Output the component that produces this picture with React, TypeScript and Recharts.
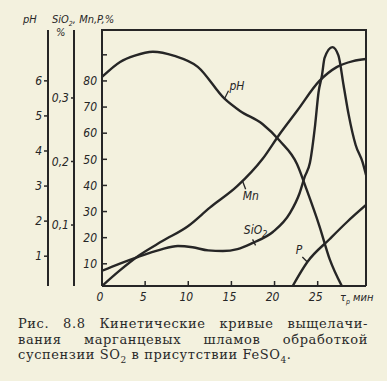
import React from "react";
import {
  ComposedChart,
  Line,
  XAxis,
  YAxis,
  ReferenceDot,
} from "recharts";

// values: time in minutes, pH units, SiO2 in %, Mn and P in %
const phTime = [0, 2.1, 3.8, 5.9, 8.4, 11.1, 14.2, 16, 18.6, 20.6, 22.6, 23.7, 25.2, 26.4, 27.8];
const phValues = [6.11, 6.54, 6.72, 6.83, 6.71, 6.4, 5.49, 5.14, 4.77, 4.29, 3.63, 2.91, 1.86, 0.91, 0.15];

const mnTime = [0, 2, 4.2, 7, 10, 12.5, 15.7, 18.6, 20.6, 22.6, 25.2, 27.2, 29.1, 30.6];
const mnValues = [1.5, 7.3, 13, 18.7, 24.5, 31.5, 39.8, 50.1, 59.7, 68.5, 80, 85.3, 87.6, 88.4];

const sio2Time = [0, 2, 4.2, 6.7, 8.8, 10.5, 12.3, 14, 15.7, 17.5, 19.8, 21.8, 22.9, 23.5, 24.1, 24.7, 25.1, 25.5, 25.8, 26.7, 27.4, 28, 28.6, 29.4, 30.2, 30.6];
const sio2Values = [0.028, 0.039, 0.05, 0.061, 0.067, 0.065, 0.06, 0.059, 0.062, 0.072, 0.089, 0.119, 0.15, 0.176, 0.198, 0.257, 0.309, 0.336, 0.363, 0.38, 0.367, 0.32, 0.273, 0.226, 0.199, 0.179];

const pTime = [22.1, 23.8, 26.4, 28.4, 30.6];
const pValues = [1.5, 10.7, 19.5, 26, 32.5];

const timeTicks = [0, 5, 10, 15, 20, 25];
const pctTicks = [10, 20, 30, 40, 50, 60, 70, 80, 90];
const pctLabelled = [10, 20, 30, 40, 50, 60, 70, 80];
const phTicks = [1, 2, 3, 4, 5, 6];
const sio2Ticks = [0.1, 0.2, 0.3];

const T_MAX = 30.6;
const PCT_MIN = 1.5;
const PCT_MAX = 99.5;

const zip = (ts: number[], vs: number[]) => ts.map((t, i) => ({ t, v: vs[i] }));
const phData = zip(phTime, phValues);
const mnData = zip(mnTime, mnValues);
const sio2Data = zip(sio2Time, sio2Values);
const pData = zip(pTime, pValues);

// layout
const CHART_W = 387;
const CHART_H = 310;
const MARGIN = { top: 30, right: 21, bottom: 4, left: 0 };
const AXIS_W = { pct: 28, sio2: 26, ph: 48 };
const X_AXIS_H = 20;
const PLOT_LEFT = MARGIN.left + AXIS_W.pct + AXIS_W.sio2 + AXIS_W.ph;
const PLOT_RIGHT = CHART_W - MARGIN.right;
const PLOT_BOTTOM = CHART_H - MARGIN.bottom - X_AXIS_H;

const INK = "#262626";
const PAPER = "#f3f1de";
const labelFont = "'Liberation Sans Narrow', 'DejaVu Sans Condensed', 'Liberation Sans', sans-serif";
const labelStyle = { fontFamily: labelFont, fontStyle: "italic", fontSize: 12, fill: INK } as const;
const frameLine = { stroke: INK, strokeWidth: 2 };

function PctTick({ x, y, payload }: any) {
  return (
    <g>
      <line x1={x + 5} x2={x + 10} y1={y} y2={y} stroke={INK} strokeWidth={1.5} />
      {pctLabelled.includes(payload.value) && (
        <text x={x} y={y} dy="0.35em" textAnchor="end" {...labelStyle}>
          {payload.value}
        </text>
      )}
    </g>
  );
}

function TimeTick({ x, y, payload }: any) {
  return (
    <g>
      <line x1={x} x2={x} y1={y - 5} y2={y - 10} stroke={INK} strokeWidth={1.5} />
      <text x={x - 2} y={y} dy="0.8em" textAnchor="middle" {...labelStyle}>
        {payload.value}
      </text>
    </g>
  );
}

// curve name with a short leader line, placed at a point on the curve
function curveLabel(text: React.ReactNode, lx: number, ly: number, tx: number, ty: number, anchor: string) {
  return ({ cx, cy }: any) => (
    <g>
      <line x1={cx} y1={cy} x2={cx + lx} y2={cy + ly} stroke={INK} strokeWidth={1.3} />
      <text x={cx + tx} y={cy + ty} dy="0.35em" textAnchor={anchor} {...labelStyle}>
        {text}
      </text>
    </g>
  );
}

const overlay = (left: number, top: number, extra: React.CSSProperties = {}): React.CSSProperties => ({
  position: "absolute",
  left,
  top,
  fontFamily: labelFont,
  fontStyle: "italic",
  fontSize: 11,
  color: INK,
  lineHeight: "12px",
  whiteSpace: "nowrap",
  ...extra,
});

const captionLine: React.CSSProperties = {
  textAlign: "justify",
  textAlignLast: "justify",
  height: 15.5,
};

export default function App() {
  return (
    <div style={{ position: "absolute", left: 0, top: 0, width: 387, height: 381, background: PAPER, overflow: "hidden" }}>
      <ComposedChart width={CHART_W} height={CHART_H} margin={MARGIN}>
        <XAxis
          type="number"
          dataKey="t"
          domain={[0, T_MAX]}
          ticks={timeTicks}
          allowDataOverflow
          height={X_AXIS_H}
          tickSize={0}
          tickMargin={5}
          tickLine={false}
          axisLine={frameLine}
          tick={<TimeTick />}
        />
        <YAxis
          yAxisId="a_pct"
          type="number"
          domain={[PCT_MIN, PCT_MAX]}
          ticks={pctTicks}
          allowDataOverflow
          width={AXIS_W.pct}
          tickSize={0}
          tickMargin={5}
          tickLine={false}
          axisLine={frameLine}
          tick={<PctTick />}
        />
        <YAxis
          yAxisId="b_sio2"
          type="number"
          domain={[0.004, 0.407]}
          ticks={sio2Ticks}
          allowDataOverflow
          width={AXIS_W.sio2}
          tickSize={3}
          tickMargin={2}
          tickLine={{ stroke: INK, strokeWidth: 1.5 }}
          axisLine={frameLine}
          tickFormatter={(v: number) => v.toFixed(1).replace(".", ",")}
          tick={labelStyle}
        />
        <YAxis
          yAxisId="c_ph"
          type="number"
          domain={[0.15, 7.45]}
          ticks={phTicks}
          allowDataOverflow
          width={AXIS_W.ph}
          tickSize={4}
          tickMargin={2}
          tickLine={{ stroke: INK, strokeWidth: 1.5 }}
          axisLine={frameLine}
          tick={labelStyle}
        />
        <Line data={phData} yAxisId="c_ph" dataKey="v" type="monotone" stroke={INK} strokeWidth={2.4} dot={false} isAnimationActive={false} />
        <Line data={mnData} yAxisId="a_pct" dataKey="v" type="monotone" stroke={INK} strokeWidth={2.4} dot={false} isAnimationActive={false} />
        <Line data={sio2Data} yAxisId="b_sio2" dataKey="v" type="monotone" stroke={INK} strokeWidth={2.4} dot={false} isAnimationActive={false} />
        <Line data={pData} yAxisId="a_pct" dataKey="v" type="monotone" stroke={INK} strokeWidth={2.4} dot={false} isAnimationActive={false} />
        <ReferenceDot yAxisId="c_ph" x={14.2} y={5.49} r={0} shape={curveLabel("pH", 4, -8, 5, -13, "start")} />
        <ReferenceDot yAxisId="a_pct" x={16.3} y={41.6} r={0} shape={curveLabel("Mn", 3, 8, 0, 15, "start")} />
        <ReferenceDot
          yAxisId="b_sio2"
          x={17.8}
          y={0.068}
          r={0}
          shape={curveLabel(<>SiO<tspan fontSize={9} dy={3}>2</tspan></>, -3, -6, 0, -16, "middle")}
        />
        <ReferenceDot yAxisId="a_pct" x={23.8} y={10.7} r={0} shape={curveLabel("P", -5, -5, -5, -12, "end")} />
      </ComposedChart>

      {/* top and right sides of the plot frame */}
      <div
        style={{
          position: "absolute",
          left: PLOT_LEFT - 1,
          top: MARGIN.top - 1,
          width: PLOT_RIGHT - PLOT_LEFT + 2,
          height: PLOT_BOTTOM - MARGIN.top + 1,
          boxSizing: "border-box",
          borderTop: `2px solid ${INK}`,
          borderRight: `2px solid ${INK}`,
          pointerEvents: "none",
        }}
      />

      <div style={overlay(23, 14)}>pH</div>
      <div style={overlay(52, 14)}>
        SiO<sub style={{ fontSize: 7 }}>2</sub>, Mn,P,%
      </div>
      <div style={overlay(56, 27)}>%</div>
      <div style={overlay(340, 292)}>
        τ<sub style={{ fontSize: 7 }}>р</sub> мин
      </div>

      <div
        style={{
          position: "absolute",
          left: 18,
          top: 316,
          width: 350,
          fontFamily: "'DejaVu Serif', 'Liberation Serif', serif",
          fontSize: 13,
          lineHeight: "15.5px",
          color: "#2a2a2a",
          letterSpacing: 0.6,
        }}
      >
        <div style={captionLine}>Рис. 8.8 Кинетические кривые выщелачи-</div>
        <div style={captionLine}>вания марганцевых шламов обработкой</div>
        <div style={{ height: 15.5 }}>
          суспензии SO<sub style={{ fontSize: 9, lineHeight: 0 }}>2</sub> в присутствии FeSO<sub style={{ fontSize: 9, lineHeight: 0 }}>4</sub>.
        </div>
      </div>
    </div>
  );
}
